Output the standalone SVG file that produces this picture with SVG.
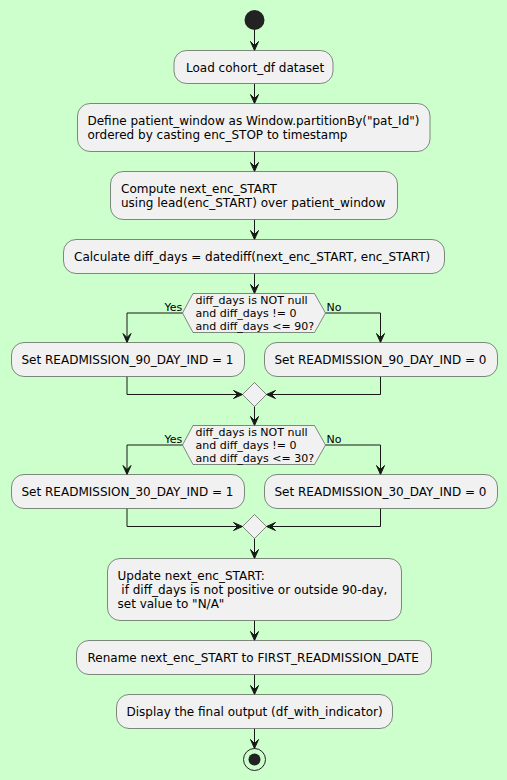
<svg xmlns="http://www.w3.org/2000/svg" width="507" height="780" viewBox="0 0 507 780">
<style>
.bg{fill:#CCFFCC}
.box{fill:#F1F1F1;stroke:#181818;stroke-width:0.5}
.t{font-family:"DejaVu Sans",Verdana,sans-serif;font-size:12px;fill:#000000}
.s{font-family:"DejaVu Sans",Verdana,sans-serif;font-size:11px;fill:#000000}
.ln{fill:none;stroke:#181818;stroke-width:1}
.ah{fill:#181818;stroke:#181818;stroke-width:1}
</style>
<defs>
<polygon id="ad" points="-4,-9 0,0 4,-9 0,-5"/>
<polygon id="ar" points="-9,-4 0,0 -9,4 -5,0"/>
<polygon id="al" points="9,-4 0,0 9,4 5,0"/>
</defs>
<rect class="bg" x="0" y="0" width="507" height="780"/>
<g id="connectors">
<path class="ln" d="M254.5,30 V50.5"/><use href="#ad" class="ah" x="254.5" y="50.5"/>
<path class="ln" d="M254.5,83.5 V103.5"/><use href="#ad" class="ah" x="254.5" y="103.5"/>
<path class="ln" d="M254.5,151.5 V171.5"/><use href="#ad" class="ah" x="254.5" y="171.5"/>
<path class="ln" d="M254.5,219.5 V239.5"/><use href="#ad" class="ah" x="254.5" y="239.5"/>
<path class="ln" d="M254.5,273.5 V293.5"/><use href="#ad" class="ah" x="254.5" y="293.5"/>
<path class="ln" d="M182.5,313 H127 V342.5"/><use href="#ad" class="ah" x="127" y="342.5"/>
<path class="ln" d="M325.5,313 H380.5 V342.5"/><use href="#ad" class="ah" x="380.5" y="342.5"/>
<path class="ln" d="M127,376.5 V394.5 H242.5"/><use href="#ar" class="ah" x="242.5" y="394.5"/>
<path class="ln" d="M380.5,376.5 V394.5 H266.5"/><use href="#al" class="ah" x="266.5" y="394.5"/>
<path class="ln" d="M254.5,406.5 V425.5"/><use href="#ad" class="ah" x="254.5" y="425.5"/>
<path class="ln" d="M182.5,445 H127 V474.5"/><use href="#ad" class="ah" x="127" y="474.5"/>
<path class="ln" d="M325.5,445 H380.5 V474.5"/><use href="#ad" class="ah" x="380.5" y="474.5"/>
<path class="ln" d="M127,508.5 V526.5 H242.5"/><use href="#ar" class="ah" x="242.5" y="526.5"/>
<path class="ln" d="M380.5,508.5 V526.5 H266.5"/><use href="#al" class="ah" x="266.5" y="526.5"/>
<path class="ln" d="M254.5,538.5 V558.5"/><use href="#ad" class="ah" x="254.5" y="558.5"/>
<path class="ln" d="M254.5,620.5 V640.5"/><use href="#ad" class="ah" x="254.5" y="640.5"/>
<path class="ln" d="M254.5,674.5 V694.5"/><use href="#ad" class="ah" x="254.5" y="694.5"/>
<path class="ln" d="M254.5,728.5 V748.5"/><use href="#ad" class="ah" x="254.5" y="748.5"/>
<text class="s" x="164.5" y="310.5">Yes</text>
<text class="s" x="326.5" y="310.5">No</text>
<text class="s" x="164.5" y="442.5">Yes</text>
<text class="s" x="326.5" y="442.5">No</text>
</g>
<g id="start"><circle cx="254.5" cy="20" r="10" fill="#222222"/></g>
<g id="load"><rect class="box" x="174" y="50.5" width="159" height="33" rx="12.5"/><text class="t" x="186" y="71.5">Load cohort_df dataset</text></g>
<g id="define"><rect class="box" x="77.5" y="103.5" width="352.5" height="48" rx="12.5"/><text class="t" x="87.5" y="125">Define patient_window as Window.partitionBy("pat_Id")</text><text class="t" x="87.5" y="139">ordered by casting enc_STOP to timestamp</text></g>
<g id="compute"><rect class="box" x="110.5" y="171.5" width="287" height="48" rx="12.5"/><text class="t" x="121" y="193">Compute next_enc_START</text><text class="t" x="121" y="207">using lead(enc_START) over patient_window</text></g>
<g id="calc"><rect class="box" x="63.5" y="239.5" width="381" height="34" rx="12.5"/><text class="t" x="74" y="260.5">Calculate diff_days = datediff(next_enc_START, enc_START)</text></g>
<g id="dec90"><polygon class="box" points="182.5,313 193,293.5 314.5,293.5 325.5,313 314.5,332.5 193,332.5"/><text class="s" x="195.5" y="304">diff_days is NOT null</text><text class="s" x="195.5" y="317">and diff_days != 0</text><text class="s" x="195.5" y="330">and diff_days &lt;= 90?</text></g>
<g id="set90y"><rect class="box" x="11.5" y="342.5" width="233" height="34" rx="12.5"/><text class="t" x="21.5" y="363.5">Set READMISSION_90_DAY_IND = 1</text></g>
<g id="set90n"><rect class="box" x="264.5" y="342.5" width="233" height="34" rx="12.5"/><text class="t" x="274.5" y="363.5">Set READMISSION_90_DAY_IND = 0</text></g>
<g id="merge90"><polygon class="box" points="254.5,382.5 266.5,394.5 254.5,406.5 242.5,394.5"/></g>
<g id="dec30"><polygon class="box" points="182.5,445 193,425.5 314.5,425.5 325.5,445 314.5,464.5 193,464.5"/><text class="s" x="195.5" y="436">diff_days is NOT null</text><text class="s" x="195.5" y="449">and diff_days != 0</text><text class="s" x="195.5" y="462">and diff_days &lt;= 30?</text></g>
<g id="set30y"><rect class="box" x="11.5" y="474.5" width="233" height="34" rx="12.5"/><text class="t" x="21.5" y="495.5">Set READMISSION_30_DAY_IND = 1</text></g>
<g id="set30n"><rect class="box" x="264.5" y="474.5" width="233" height="34" rx="12.5"/><text class="t" x="274.5" y="495.5">Set READMISSION_30_DAY_IND = 0</text></g>
<g id="merge30"><polygon class="box" points="254.5,514.5 266.5,526.5 254.5,538.5 242.5,526.5"/></g>
<g id="update"><rect class="box" x="107.5" y="558.5" width="294" height="62" rx="12.5"/><text class="t" x="117.5" y="579.5">Update next_enc_START:</text><text class="t" x="117.5" y="593.5" xml:space="preserve"> if diff_days is not positive or outside 90-day,</text><text class="t" x="117.5" y="607.5">set value to "N/A"</text></g>
<g id="rename"><rect class="box" x="76.5" y="640.5" width="355" height="34" rx="12.5"/><text class="t" x="87.5" y="661.5">Rename next_enc_START to FIRST_READMISSION_DATE</text></g>
<g id="display"><rect class="box" x="116.5" y="694.5" width="276" height="34" rx="12.5"/><text class="t" x="126.5" y="715.5">Display the final output (df_with_indicator)</text></g>
<g id="end"><circle cx="254.5" cy="759.5" r="11" fill="none" stroke="#222222" stroke-width="1"/><circle cx="254.5" cy="759.5" r="6" fill="#222222"/></g>
</svg>
